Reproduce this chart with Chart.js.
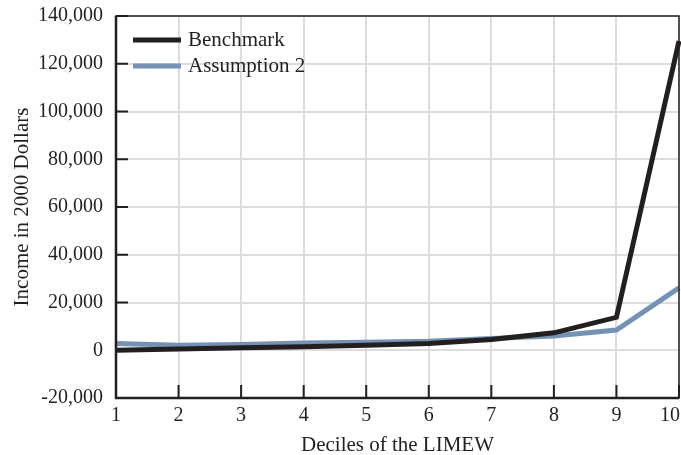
<!DOCTYPE html>
<html>
<head>
<meta charset="utf-8">
<script src="https://cdn.jsdelivr.net/npm/chart.js@4"></script>
<style>
html,body{margin:0;padding:0;background:#fff;}
#wrap{width:681px;height:455px;}
</style>
</head>
<body>
<div id="wrap"><canvas id="c" width="681" height="455"></canvas></div>
<script>
const deciles = ["1","2","3","4","5","6","7","8","9","10"];
const benchmark = [0, 500, 1000, 1500, 2100, 2800, 4500, 7300, 13800, 129500];
const assumption2 = [2800, 2100, 2400, 3000, 3400, 3800, 4900, 6000, 8500, 26100];
const seriesNames = ["Benchmark", "Assumption 2"];
const yTicks = [-20000, 0, 20000, 40000, 60000, 80000, 100000, 120000, 140000];

const FONT = "'Liberation Serif', 'DejaVu Serif', serif";
const TXT = "#231f20";

const framePlugin = {
  id: 'frame',
  afterDraw(chart) {
    const {ctx, chartArea: a, scales} = chart;
    const W = chart.width;
    ctx.save();
    ctx.strokeStyle = TXT;
    ctx.lineWidth = 2;
    ctx.beginPath();
    scales.x.ticks.forEach((t, i) => {
      const px = scales.x.getPixelForTick(i);
      ctx.moveTo(px, a.bottom);
      ctx.lineTo(px, a.bottom - 13);
    });
    yTicks.forEach(v => {
      const py = scales.y.getPixelForValue(v);
      ctx.moveTo(a.left, py);
      ctx.lineTo(a.left + 12, py);
    });
    ctx.stroke();
    ctx.lineWidth = 1.5;
    ctx.strokeRect(a.left, a.top, a.right - a.left, a.bottom - a.top);
    ctx.lineWidth = 2.5;
    ctx.beginPath();
    ctx.moveTo(a.left, a.top); ctx.lineTo(a.left, a.bottom); ctx.lineTo(a.right, a.bottom);
    ctx.stroke();
    // x tick labels (clamped inside canvas)
    ctx.font = "20px " + FONT;
    ctx.fillStyle = TXT;
    ctx.textBaseline = 'middle';
    ctx.textAlign = 'center';
    scales.x.ticks.forEach((t, i) => {
      const px = scales.x.getPixelForTick(i);
      const lbl = deciles[i];
      const w = ctx.measureText(lbl).width;
      const cx = Math.min(px, W - 1 - w / 2);
      ctx.fillText(lbl, cx, a.bottom + 18);
    });
    // legend
    ctx.font = "21px " + FONT;
    ctx.textAlign = 'left';
    chart.data.datasets.forEach((ds, i) => {
      const y = a.top + 24 + i * 26;
      ctx.strokeStyle = ds.borderColor;
      ctx.lineWidth = 5;
      ctx.beginPath();
      ctx.moveTo(a.left + 17, y);
      ctx.lineTo(a.left + 65, y);
      ctx.stroke();
      ctx.fillStyle = TXT;
      ctx.fillText(ds.label, a.left + 72, y);
    });
    ctx.restore();
  }
};

new Chart(document.getElementById('c'), {
  type: 'line',
  data: {
    labels: deciles,
    datasets: [
      {label: seriesNames[0], data: benchmark, borderColor: '#231f20', borderWidth: 5, pointRadius: 0, tension: 0, borderJoinStyle: 'miter'},
      {label: seriesNames[1], data: assumption2, borderColor: '#7592b5', borderWidth: 5, pointRadius: 0, tension: 0, borderJoinStyle: 'miter'}
    ]
  },
  options: {
    responsive: false,
    animation: false,
    devicePixelRatio: 1,
    layout: {padding: {left: 6, right: 2, top: 16, bottom: 0}},
    plugins: {legend: {display: false}, tooltip: {enabled: false}},
    scales: {
      x: {
        offset: false,
        grid: {color: '#dcdcdc', lineWidth: 2, drawTicks: false},
        border: {display: false},
        ticks: {display: false},
        title: {display: true, text: 'Deciles of the LIMEW', color: TXT, font: {family: FONT, size: 21}, padding: {top: 0, bottom: -3}},
        afterFit(s) { s.height = 57; s.paddingLeft = 0; s.paddingRight = 0; }
      },
      y: {
        min: -20000, max: 140000,
        afterBuildTicks(s) { s.ticks = yTicks.map(v => ({value: v})); },
        grid: {color: '#dcdcdc', lineWidth: 2, drawTicks: false},
        border: {display: false},
        ticks: {color: TXT, font: {family: FONT, size: 20}, padding: 13,
          callback: v => v.toLocaleString('en-US')},
        title: {display: true, text: 'Income in 2000 Dollars', color: TXT, font: {family: FONT, size: 21}, padding: {bottom: 0}},
        afterFit(s) { s.width = 110; s.paddingTop = 0; s.paddingBottom = 0; }
      }
    }
  },
  plugins: [framePlugin]
});
</script>
</body>
</html>
